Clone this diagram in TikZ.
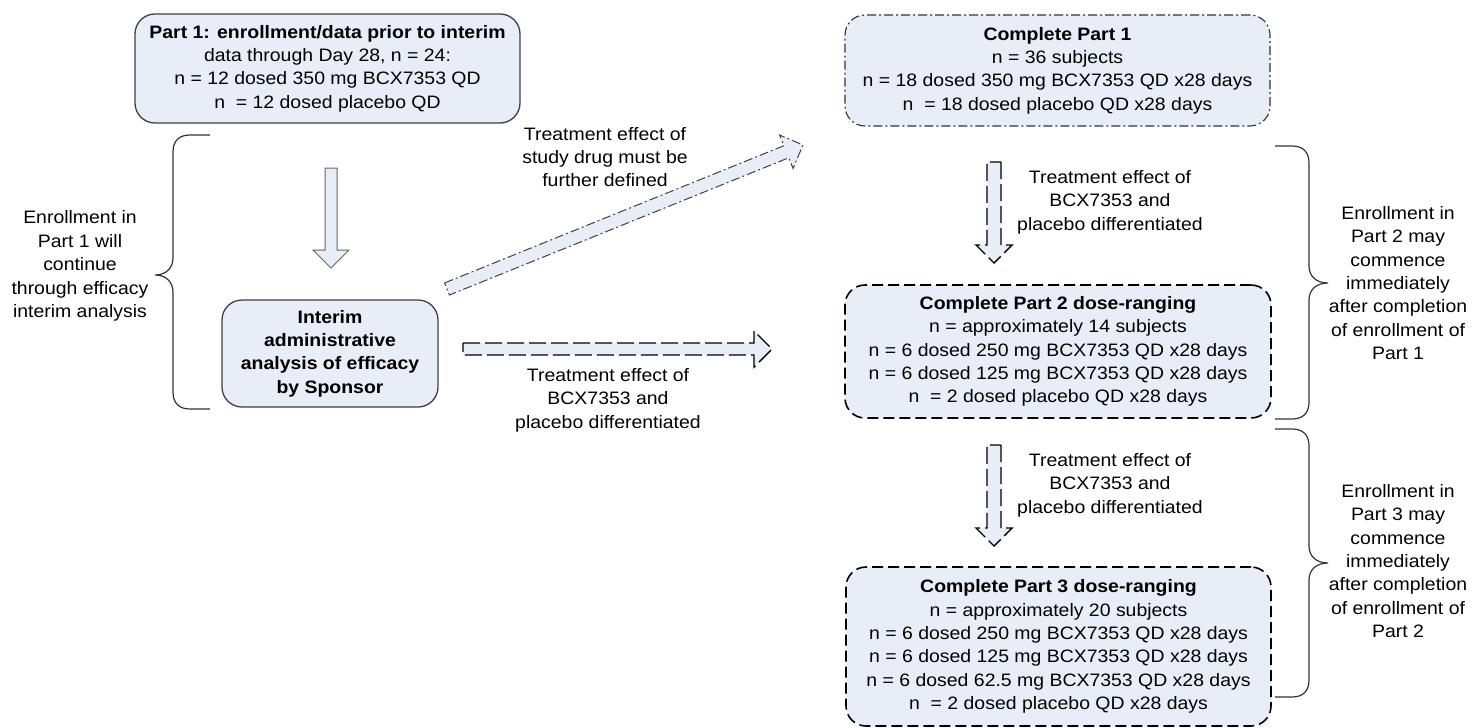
\documentclass[tikz,border=0pt]{standalone}
\usepackage{fontspec}
\setmainfont{Liberation Sans}[FakeStretch=1.08]
\usetikzlibrary{calc}
\definecolor{boxfill}{RGB}{232,238,248}
\definecolor{edgegray}{RGB}{64,64,64}
\newcommand\blockarrow[4]{%
  \coordinate (bah) at ($(#3)!18pt!(#2)$);
  \draw[#1] ($(#2)!#4!90:(#3)$) -- ($(bah)!#4!-90:(#2)$) -- ($(bah)!18pt!-90:(#2)$) -- (#3)
    -- ($(bah)!18pt!90:(#2)$) -- ($(bah)!#4!90:(#2)$) -- ($(#2)!#4!-90:(#3)$) -- cycle;}
\tikzset{
  txt/.style={align=center, font=\fontsize{18}{23.4}\selectfont, inner sep=0pt, text=black},
  boxsolid/.style={txt, rounded corners=20pt, fill=boxfill, draw=edgegray, line width=1.3pt},
  boxdashdot/.style={txt, rounded corners=20pt, fill=boxfill, draw=black!80, line width=1.1pt,
    dash pattern=on 9pt off 3pt on 2pt off 3pt},
  boxdashed/.style={txt, rounded corners=20pt, fill=boxfill, draw=black, line width=1.6pt,
    dash pattern=on 11pt off 5pt},
  arrsolid/.style={fill=boxfill, draw=black!60, line width=1pt, line join=miter},
  arrdashdot/.style={fill=boxfill, draw=black!75, line width=1pt,
    dash pattern=on 9pt off 3pt on 2pt off 3pt},
  arrdashed/.style={fill=boxfill, draw=black, line width=1.4pt, dash pattern=on 17pt off 5pt},
  bracket/.style={draw=black!80, line width=1.2pt}
}
\begin{document}
\begin{tikzpicture}[x=1pt, y=-1pt]
\useasboundingbox (0,0) rectangle (1481,728);

% boxes
\node[boxsolid, minimum width=385pt, minimum height=109pt] (p1) at (327.5,68.5)
  {\textbf{Part 1: enrollment/data prior to interim}\\data through Day 28, n = 24:\\n = 12 dosed 350 mg BCX7353 QD\\n\ \ = 12 dosed placebo QD};
\node[boxsolid, minimum width=216pt, minimum height=107pt] (interim) at (330,353.5)
  {\textbf{Interim}\\\textbf{administrative}\\\textbf{analysis of efficacy}\\\textbf{by Sponsor}};
\node[boxdashdot, minimum width=425pt, minimum height=111pt] (c1) at (1057.5,70.5)
  {\textbf{Complete Part 1}\\n = 36 subjects\\n = 18 dosed 350 mg BCX7353 QD x28 days\\n\ \ = 18 dosed placebo QD x28 days};
\node[boxdashed, minimum width=426pt, minimum height=133pt] (c2) at (1058,351.5)
  {\textbf{Complete Part 2 dose-ranging}\\n = approximately 14 subjects\\n = 6 dosed 250 mg BCX7353 QD x28 days\\n = 6 dosed 125 mg BCX7353 QD x28 days\\n\ \ = 2 dosed placebo QD x28 days};
\node[boxdashed, minimum width=425pt, minimum height=159pt] (c3) at (1058.5,646.5)
  {\textbf{Complete Part 3 dose-ranging}\\n = approximately 20 subjects\\n = 6 dosed 250 mg BCX7353 QD x28 days\\n = 6 dosed 125 mg BCX7353 QD x28 days\\n = 6 dosed 62.5 mg BCX7353 QD x28 days\\n\ \ = 2 dosed placebo QD x28 days};

% block arrows
\coordinate (a1s) at (331,168); \coordinate (a1e) at (331,268);
\blockarrow{arrsolid}{a1s}{a1e}{6pt}
\coordinate (d1s) at (447,289); \coordinate (d1e) at (803,145);
\blockarrow{arrdashdot}{d1s}{d1e}{6.5pt}
\coordinate (h1s) at (463,349); \coordinate (h1e) at (772,349);
\blockarrow{arrdashed}{h1s}{h1e}{6pt}
\coordinate (v2s) at (994,162); \coordinate (v2e) at (994,263);
\blockarrow{arrdashed}{v2s}{v2e}{7pt}
\coordinate (v3s) at (994,445); \coordinate (v3e) at (994,546);
\blockarrow{arrdashed}{v3s}{v3e}{7pt}

% labels
\node[txt] (lbd) at (605,157) {Treatment effect of\\study drug must be\\further defined};
\node[txt] (lbh) at (608,400) {Treatment effect of\\BCX7353 and\\placebo differentiated};
\node[txt] (lb2) at (1110,202) {Treatment effect of\\BCX7353 and\\placebo differentiated};
\node[txt] (lb3) at (1110,485) {Treatment effect of\\BCX7353 and\\placebo differentiated};
\node[txt] (lleft) at (80,266) {Enrollment in\\Part 1 will\\continue\\through efficacy\\interim analysis};
\node[txt] (lr1) at (1398,283) {Enrollment in\\Part 2 may\\commence\\immediately\\after completion\\of enrollment of\\Part 1};
\node[txt] (lr2) at (1398,561) {Enrollment in\\Part 3 may\\commence\\immediately\\after completion\\of enrollment of\\Part 2};

% braces
\draw[bracket] (210,135) -- (190,135) .. controls (179,135) and (173,141) .. (173,152) -- (173,258)
  .. controls (173,268) and (166,275) .. (155,275) .. controls (166,275) and (173,282) .. (173,292)
  -- (173,392) .. controls (173,403) and (179,409) .. (190,409) -- (210,409);
\draw[bracket] (1275,146) -- (1292,146) .. controls (1303,146) and (1309,152) .. (1309,163) -- (1309,266)
  .. controls (1309,276) and (1316,283) .. (1328,283) .. controls (1316,283) and (1309,290) .. (1309,300)
  -- (1309,402) .. controls (1309,413) and (1303,419) .. (1292,419) -- (1275,419);
\draw[bracket] (1275,429) -- (1292,429) .. controls (1303,429) and (1309,435) .. (1309,446) -- (1309,546)
  .. controls (1309,556) and (1316,563) .. (1328,563) .. controls (1316,563) and (1309,570) .. (1309,580)
  -- (1309,680) .. controls (1309,691) and (1303,697) .. (1292,697) -- (1275,697);
\end{tikzpicture}
\end{document}
